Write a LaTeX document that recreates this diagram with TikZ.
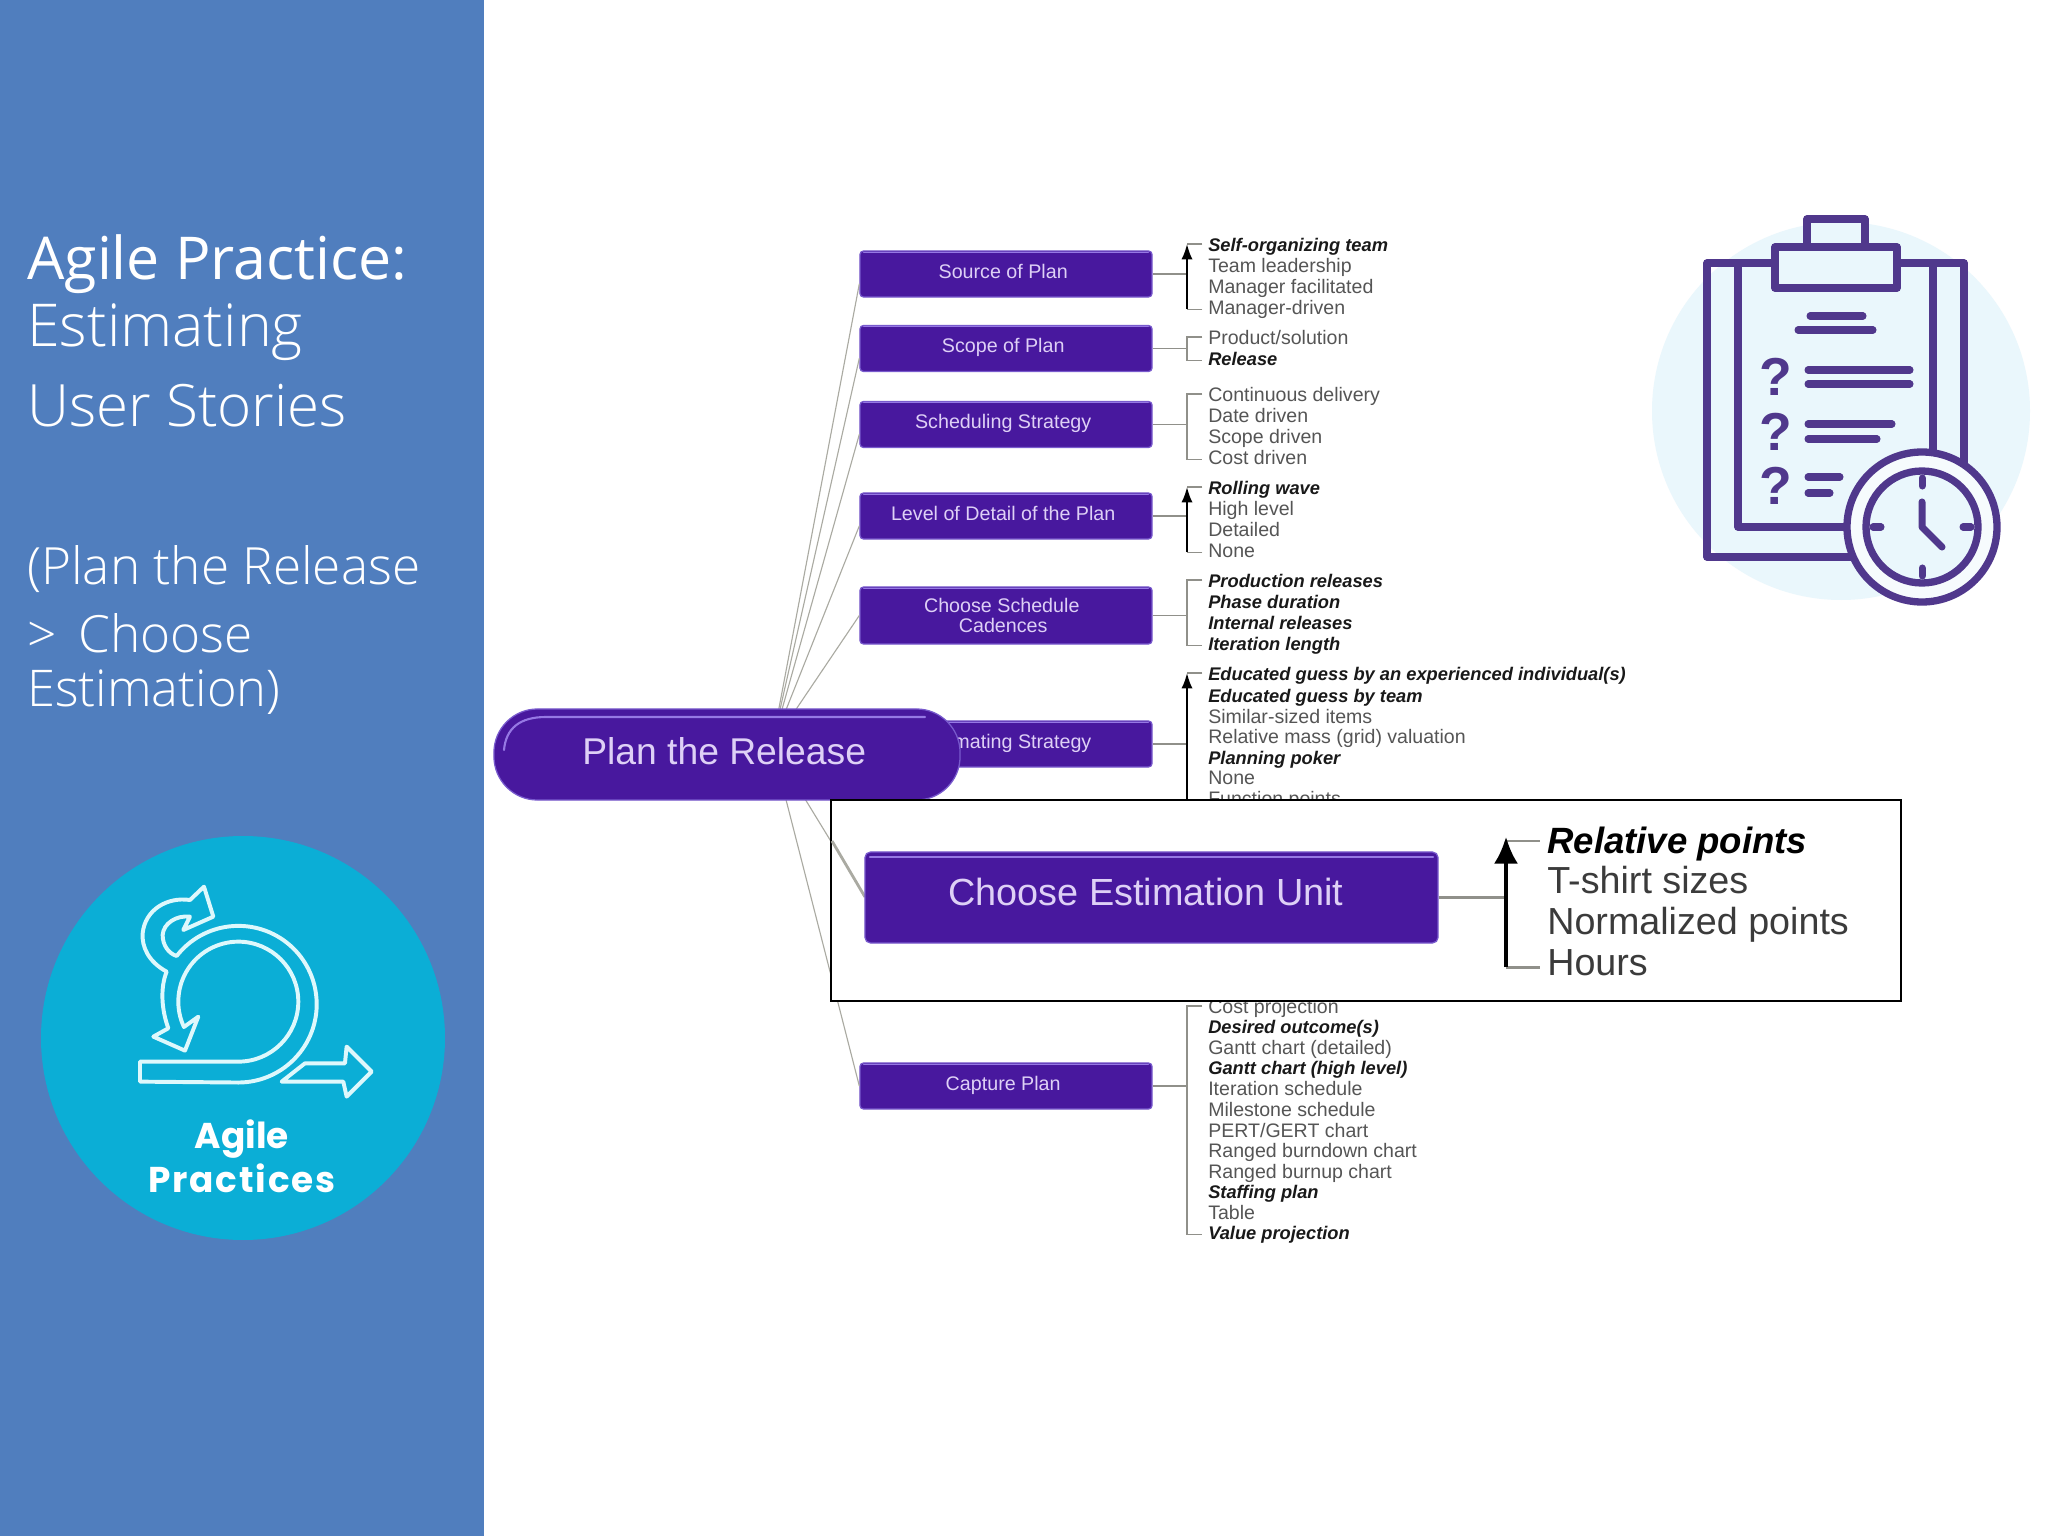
\documentclass[tikz,border=0pt]{standalone}
\usepackage{fontspec}
\setmainfont{Liberation Sans}
\newfontfamily\sidefont{Open Sans}
\newfontfamily\sidelight{Open Sans Light}
\newfontfamily\badgefont{Poppins}
\usetikzlibrary{arrows.meta}

\begin{document}
\begin{tikzpicture}[x=0.025cm,y=-0.025cm,
  planbox/.style={draw=boxedge, fill=boxfill, line width=0.9pt, rounded corners=2.5pt, inner sep=0pt,
    minimum width=7.3cm, minimum height=1.15cm, align=center, text=boxtext,
    text height=10pt, text depth=4pt, font=\fontsize{14}{14.5}\selectfont, execute at end node=\kern4pt},
  listplain/.style={anchor=west, inner sep=0pt, text=listgray, text height=11pt, text depth=0pt,
    font=\fontsize{13.9}{15}\selectfont},
  listbold/.style={listplain, text=black!90, font=\fontsize{13}{15}\selectfont\bfseries\itshape},
  zoomplain/.style={anchor=west, inner sep=0pt, text=listgray!70!black, text height=22pt, text depth=4pt,
    font=\fontsize{26.8}{28}\selectfont},
  zoombold/.style={zoomplain, text=black, font=\fontsize{26}{28}\selectfont\bfseries\itshape},
  branch/.style={draw=linegray, line width=0.8pt},
  tree/.style={draw=linegray!85!black, line width=0.8pt},
  spine/.style={draw=black, line width=1.4pt, -{Latex[length=11pt,width=8pt]}},
  bevel/.style={draw=bevellight, line width=1pt, line cap=round},
  sidetitle/.style={anchor=west, inner sep=0pt, text=white},
  icon/.style={draw=iconpurple, line width=5.2pt, line join=round},
  iconbar/.style={draw=iconpurple, line width=5pt, line cap=round},
  badge/.style={draw=badgeline, line width=2.8pt, line join=round}]
% Colors
\definecolor{sidebar}{RGB}{80,126,190}
\definecolor{badgeblue}{RGB}{11,174,214}
\definecolor{badgeline}{RGB}{222,248,252}
\definecolor{boxfill}{RGB}{72,24,158}
\definecolor{boxedge}{RGB}{120,90,205}
\definecolor{boxtext}{RGB}{222,208,246}
\definecolor{bevellight}{RGB}{150,120,228}
\definecolor{listgray}{RGB}{85,85,85}
\definecolor{linegray}{RGB}{170,170,162}
\definecolor{iconpurple}{RGB}{80,56,140}
\definecolor{iconpale}{RGB}{234,247,252}
\definecolor{iconring}{RGB}{246,251,253}

\useasboundingbox (0,0) rectangle (2048,1536);
\fill[white] (0,0) rectangle (2048,1536);

% Left panel
\fill[sidebar] (0,0) rectangle (484,1536);
\node[sidetitle, font=\fontsize{42}{43}\selectfont\sidefont] (practice) at (27,264) {Agile Practice:};
\node[sidetitle, font=\fontsize{42}{43}\selectfont\sidelight] (estimating) at (27,332) {Estimating};
\node[sidetitle, font=\fontsize{41.5}{43}\selectfont\sidelight] (stories) at (27,406) {User Stories};
\node[sidetitle, font=\fontsize{36.5}{38}\selectfont\sidelight] (release) at (27,569) {(Plan the Release};
\node[sidetitle, font=\fontsize{36.5}{38}\selectfont\sidelight] (choose) at (27,633) {> \kern6pt Choose};
\node[sidetitle, font=\fontsize{36}{38}\selectfont\sidelight] (estimation) at (27,692) {Estimation)};

% Agile badge
\fill[badgeblue] (243,1038) circle (202);
\begin{scope}[shift={(20,820)},scale=0.3333]
\draw[badge] (360,725) -- (655,725) arc[start angle=90, end angle=-205, radius=180]
  -- (535,590) -- (495,692) -- (400,650) -- (445,625)
  .. controls (425,570) and (420,505) .. (440,455)
  .. controls (385,425) and (365,380) .. (368,340)
  .. controls (375,270) and (440,230) .. (510,240)
  -- (552,200) -- (580,290) -- (490,330) -- (510,290)
  .. controls (470,285) and (430,310) .. (428,345)
  .. controls (428,375) and (445,400) .. (470,408)
  arc[start angle=-142, end angle=90, radius=235] -- (360,785) -- cycle;
\draw[badge] (785,785) -- (970,785) -- (980,830) -- (1055,755) -- (980,680) -- (975,730) -- (855,730) -- cycle;
\end{scope}
\node[inner sep=0pt, text=white, align=center, font=\fontsize{25.5}{31}\selectfont\badgefont\bfseries] (agile) at (242,1156) {Agile\\\addfontfeatures{LetterSpace=5}Practices};

% Clipboard icon
\fill[iconpale] (1841,411) circle (189);
\draw[icon] (1707,263) rectangle (1964,557);
\draw[icon] (1738,263) -- (1738,527) -- (1933,527) -- (1933,263);
\draw[icon, fill=iconpale] (1807,219) rectangle (1865,247);
\draw[icon, fill=iconpale] (1775,247) rectangle (1897,288);
\draw[iconbar] (1810,316) -- (1863,316);
\draw[iconbar] (1798,330) -- (1873,330);
\draw[iconbar] (1808,370) -- (1910,370);
\draw[iconbar] (1808,384) -- (1910,384);
\draw[iconbar] (1808,424) -- (1892,424);
\draw[iconbar] (1808,439) -- (1877,439);
\draw[iconbar] (1808,477) -- (1840,477);
\draw[iconbar] (1808,493) -- (1830,493);
\foreach \n/\y in {askA/377,askB/432,askC/486}{
  \node[inner sep=0pt, text=iconpurple, font=\fontsize{38}{38}\selectfont\bfseries] (\n) at (1776,\y) {?};
}
% Clock
\draw[icon, fill=iconring] (1922,527) circle (75);
\draw[icon, fill=iconpale] (1922,527) circle (56);
\draw[iconbar] (1922,478) -- (1922,486);
\draw[iconbar] (1922,568) -- (1922,576);
\draw[iconbar] (1873,527) -- (1881,527);
\draw[iconbar] (1963,527) -- (1971,527);
\draw[iconbar, line join=round] (1922,502) -- (1922,527) -- (1942,547);

% Branches out of the centre
\coordinate (hub) at (772,745);
\node[planbox] (source) at (1006,274) {Source of Plan};
\node[planbox] (scope) at (1006,348.5) {Scope of Plan};
\node[planbox] (scheduling) at (1006,424.5) {Scheduling Strategy};
\node[planbox] (level) at (1006,516) {Level of Detail of the Plan};
\node[planbox, minimum height=1.425cm, text height=, text depth=] (cadences) at (1006,615.5) {Choose Schedule\kern2pt\\Cadences};
\node[planbox] (strategy) at (1006,744) {Estimating Strategy\kern-4pt};
\node[planbox] (capture) at (1006,1086) {Capture Plan};
\foreach \n in {source,scope,scheduling,level}{
  \draw[branch] (hub) -- ([yshift=-7pt]\n.west);
}
\draw[branch] (hub) -- (cadences.west);
\draw[branch] (hub) -- (capture.west);
\coordinate (unitfoot) at (865,897);
\draw[branch] (hub) -- (unitfoot);
\foreach \n in {source,scope,scheduling,level,cadences,strategy,capture}{
  \draw[bevel, line width=0.7pt] ([xshift=3pt,yshift=-1.5pt]\n.north west) -- ([xshift=-3pt,yshift=-1.5pt]\n.north east);
}

% Option lists
\foreach \n/\y/\st/\t in {
  self/244/listbold/Self-organizing team, lead/265/listplain/Team leadership,
  facil/286/listplain/Manager facilitated, driven/307/listplain/Manager-driven,
  product/337/listplain/{Product/solution}, rel/358/listbold/Release,
  contin/394/listplain/Continuous delivery, dated/415/listplain/Date driven,
  scoped/436/listplain/Scope driven, costd/457/listplain/Cost driven,
  rolling/487/listbold/Rolling wave, high/508/listplain/High level,
  detailed/529/listplain/Detailed, noneA/550/listplain/None,
  prod/580/listbold/Production releases, phase/601/listbold/Phase duration,
  internal/622/listbold/Internal releases, iter/643/listbold/Iteration length,
  indiv/673/listbold/Educated guess by an experienced individual(s), team/695/listbold/Educated guess by team,
  similar/716/listplain/Similar-sized items, mass/736/listplain/Relative mass (grid) valuation,
  poker/757/listbold/Planning poker, noneB/777/listplain/None,
  funct/798/listplain/Function points,
  costp/1006/listplain/Cost projection, desired/1026/listbold/Desired outcome(s),
  ganttA/1047/listplain/Gantt chart (detailed), ganttB/1067/listbold/Gantt chart (high level),
  itersch/1088/listplain/Iteration schedule, mile/1109/listplain/Milestone schedule,
  pert/1130/listplain/{PERT/GERT chart}, down/1150/listplain/Ranged burndown chart,
  burnup/1171/listplain/Ranged burnup chart, staff/1191/listbold/Staffing plan,
  tablei/1212/listplain/Table, value/1232/listbold/Value projection}{
  \node[\st] (\n) at (1208,\y) {\t};
}

% Brackets from the boxes to the lists
\coordinate (rail) at (1187,0);
\foreach \b/\i/\j in {scope/product/rel,scheduling/contin/costd,cadences/prod/iter,capture/costp/value}{
  \draw[tree] (\b.east) -- (\b.east -| rail);
  \draw[tree] ([xshift=-4pt]\i.west) -- (\i.west -| rail) -- ([yshift=-1.5pt]\j.west -| rail) -- ([xshift=-4pt,yshift=-1.5pt]\j.west);
}
\foreach \b/\i/\j in {source/self/driven,level/rolling/noneA}{
  \draw[tree] (\b.east) -- (\b.east -| rail);
  \draw[tree] ([xshift=-4pt]\i.west) -- (\i.west -| rail);
  \draw[tree] ([xshift=-4pt,yshift=-1.5pt]\j.west) -- ([yshift=-1.5pt]\j.west -| rail);
  \draw[spine] ([yshift=-1.5pt]\j.west -| rail) -- (\i.west -| rail);
}
\draw[tree] (strategy.east) -- (strategy.east -| rail);
\draw[tree] ([xshift=-4pt]indiv.west) -- (indiv.west -| rail);
\draw[spine] ([yshift=-5pt]funct.west -| rail) -- (indiv.west -| rail);

% Centre pill
\node[planbox, minimum width=11.65cm, minimum height=2.275cm, rounded corners=31pt,
  text height=20pt, text depth=6pt, font=\fontsize{26.5}{29}\selectfont] (plan) at (727,754.5) {Plan the Release};
\draw[bevel, line width=1.5pt] (504,750) .. controls (506,728) and (520,717) .. (546,717) -- (925,717);

% Enlarged part
\draw[fill=white, draw=black, line width=1.2pt] (831,800) rectangle (1901,1001);
\coordinate (framein) at (832,841);
\draw[branch, line width=2pt] (framein) -- (unitfoot);
\node[planbox, minimum width=14.325cm, minimum height=2.275cm, rounded corners=4pt,
  text height=20pt, text depth=8pt, font=\fontsize{26.9}{29}\selectfont] (unit) at (1151.5,897.5) {Choose Estimation Unit\kern4pt};
\draw[bevel, line width=1.5pt] ([xshift=4pt,yshift=-4pt]unit.north west) -- ([xshift=-4pt,yshift=-4pt]unit.north east);

\node[zoombold] (relative) at (1547,841) {Relative points};
\node[zoomplain] (tshirt) at (1547,881) {T-shirt sizes};
\node[zoomplain] (normal) at (1547,922) {Normalized points};
\node[zoomplain] (hours) at (1547,963) {Hours};
\coordinate (railbig) at (1506,0);
\draw[tree, line width=2pt] (unit.east) -- (unit.east -| railbig);
\draw[tree, line width=2pt] ([xshift=-5pt]relative.west) -- (relative.west -| railbig);
\draw[tree, line width=2pt] ([xshift=-5pt,yshift=-3pt]hours.west) -- ([yshift=-3pt]hours.west -| railbig);
\draw[spine, line width=2.6pt, -{Latex[length=19pt,width=17pt]}] ([yshift=-3pt]hours.west -| railbig) -- ([yshift=3pt]relative.west -| railbig);
\end{tikzpicture}
\end{document}
